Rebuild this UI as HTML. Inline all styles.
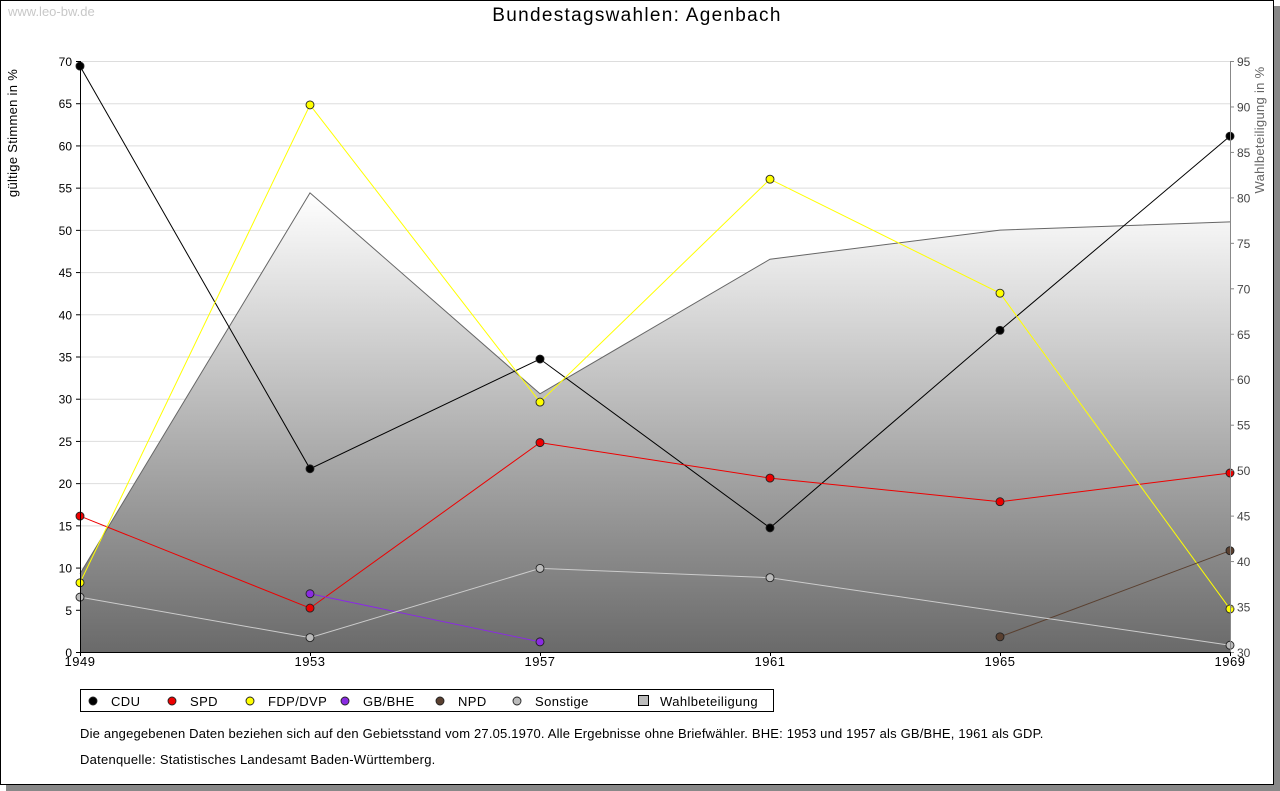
<!DOCTYPE html>
<html><head><meta charset="utf-8"><style>
body{margin:0;background:#fff;font-family:"Liberation Sans",sans-serif;}
#wrap{position:relative;width:1280px;height:791px;overflow:hidden;}
</style></head><body>
<div id="wrap">
<svg id="svg" width="1280" height="791" xmlns="http://www.w3.org/2000/svg" font-family="Liberation Sans, sans-serif">
<defs>
<linearGradient id="grad" x1="0" y1="0" x2="0" y2="1">
<stop offset="0" stop-color="#ffffff"/><stop offset="1" stop-color="#6a6a6a"/>
</linearGradient>
</defs>
<rect x="6" y="6" width="1274" height="785" fill="#888"/>
<rect x="0.5" y="0.5" width="1273" height="784" fill="#fff" stroke="#000"/>
<text x="8" y="16" font-size="13" fill="#c8c8c8">www.leo-bw.de</text>
<text x="637" y="21" font-size="19" text-anchor="middle" letter-spacing="1.3">Bundestagswahlen: Agenbach</text>
<text transform="translate(17,133) rotate(-90)" font-size="13" text-anchor="middle" letter-spacing="0.3">gültige Stimmen in %</text>
<text transform="translate(1264,130) rotate(-90)" font-size="13" text-anchor="middle" fill="#666" letter-spacing="0.3">Wahlbeteiligung in %</text>
<g id="grid"></g><g id="area"></g><g id="lines"></g><g id="axes"></g>
<rect x="80.5" y="689.5" width="693" height="22" fill="#fff" stroke="#000"/>
<g id="legend"></g>
<text x="80" y="738" font-size="13" letter-spacing="0.18">Die angegebenen Daten beziehen sich auf den Gebietsstand vom 27.05.1970. Alle Ergebnisse ohne Briefwähler. BHE: 1953 und 1957 als GB/BHE, 1961 als GDP.</text>
<text x="80" y="764" font-size="13" letter-spacing="0.25">Datenquelle: Statistisches Landesamt Baden-Württemberg.</text>
</svg>
</div>
<script>
const years=["1949","1953","1957","1961","1965","1969"];
const leftTicks=[0,5,10,15,20,25,30,35,40,45,50,55,60,65,70];
const rightTicks=[30,35,40,45,50,55,60,65,70,75,80,85,90,95];
const cdu=[69.4,21.7,34.7,14.7,38.1,61.1];
const spd=[16.1,5.2,24.8,20.6,17.8,21.2];
const fdp=[8.2,64.8,29.6,56.0,42.5,5.1];
const gbbhe=[null,6.9,1.2,null,null,null];
const npd=[null,null,null,null,1.8,12.0];
const sonstige=[6.5,1.7,9.9,8.8,null,0.8];
const turnout=[38.6,80.5,58.4,73.2,76.4,77.3];
const NS="http://www.w3.org/2000/svg";
const X0=80,X1=1230,Y0=652,Y1=61;
const x=i=>X0+(X1-X0)*i/(years.length-1);
const y=v=>Y0-(Y0-Y1)*v/70;
const y2=v=>Y0-(Y0-Y1)*(v-30)/65;
function mk(tag,attrs,parent){const e=document.createElementNS(NS,tag);for(const k in attrs)e.setAttribute(k,attrs[k]);document.getElementById(parent).appendChild(e);return e;}
leftTicks.forEach(t=>{
 if(t>0){const g=mk('line',{x1:X0,x2:X1,y1:y(t)+.5,y2:y(t)+.5,stroke:'#ddd'},'grid');
 
 }
 const l=mk('text',{x:X0-8,y:y(t)+5,'font-size':12,'text-anchor':'end'},'axes');l.textContent=t;
 
 
 mk('line',{x1:X0-4,x2:X0,y1:y(t)+.5,y2:y(t)+.5,stroke:'#000'},'axes');
});
rightTicks.forEach(t=>{
 const l=mk('text',{x:X1+7,y:y2(t)+5,'font-size':12,fill:'#444'},'axes');l.textContent=t;
 
 
 mk('line',{x1:X1,x2:X1+4,y1:y2(t)+.5,y2:y2(t)+.5,stroke:'#888'},'axes');
});
years.forEach((yr,i)=>{
 const l=mk('text',{x:x(i),y:Y0+14,'font-size':13,'text-anchor':'middle','letter-spacing':0.5},'axes');l.textContent=yr;
 
 
 mk('line',{x1:x(i)+.5,x2:x(i)+.5,y1:Y0,y2:Y0+4,stroke:'#000'},'axes');
});
mk('line',{x1:X0+.5,x2:X0+.5,y1:Y1,y2:Y0,stroke:'#000'},'axes');
mk('line',{x1:X1+.5,x2:X1+.5,y1:Y1,y2:Y0,stroke:'#888'},'axes');
mk('line',{x1:X0,x2:X1,y1:Y0+.5,y2:Y0+.5,stroke:'#000'},'axes');
let d='M'+x(0)+','+Y0;turnout.forEach((v,i)=>d+=' L'+x(i)+','+y2(v));d+=' L'+x(5)+','+Y0+'Z';
const ar=mk('path',{d:d,fill:'url(#grad)'},'area');


let d2='';turnout.forEach((v,i)=>d2+=(i?' L':'M')+x(i)+','+y2(v));
mk('path',{d:d2,fill:'none',stroke:'#666'},'area');
const series=[["CDU",cdu,"#000","#000"],["SPD",spd,"#e00","#e00"],["FDP/DVP",fdp,"#ff0","#ff0"],["GB/BHE",gbbhe,"#8a2be2","#8a2be2"],["NPD",npd,"#5a4030","#5a4030"],["Sonstige",sonstige,"#ccc","#bbb"]];
series.forEach(([name,vals,col,fill])=>{
 const pts=vals.map((v,i)=>v==null?null:[x(i),y(v)]).filter(p=>p);
 const p=mk('polyline',{points:pts.map(q=>q.join(',')).join(' '),fill:'none',stroke:col,'stroke-width':1},'lines');
 
 
 pts.forEach(q=>{const m=mk('circle',{cx:q[0],cy:q[1],r:4,fill:fill,stroke:'#222','stroke-width':.9},'lines');
 
 });
});
const leg=[["CDU","#000",93],["SPD","#e00",172],["FDP/DVP","#ff0",250],["GB/BHE","#8a2be2",345],["NPD","#5a4030",440],["Sonstige","#bbb",517]];
leg.forEach(([n,c,lx])=>{
 const m=mk('circle',{cx:lx,cy:701,r:4,fill:c,stroke:'#222','stroke-width':.9},'legend');
 
 
 const t=mk('text',{x:lx+18,y:706,'font-size':13,'letter-spacing':0.4},'legend');t.textContent=n;
 
 
});
const sq=mk('rect',{x:638.5,y:695.5,width:10,height:10,fill:'#bbb',stroke:'#000'},'legend');


const wt=mk('text',{x:660,y:706,'font-size':13,'letter-spacing':0.4},'legend');wt.textContent='Wahlbeteiligung';


</script>
</body></html>
